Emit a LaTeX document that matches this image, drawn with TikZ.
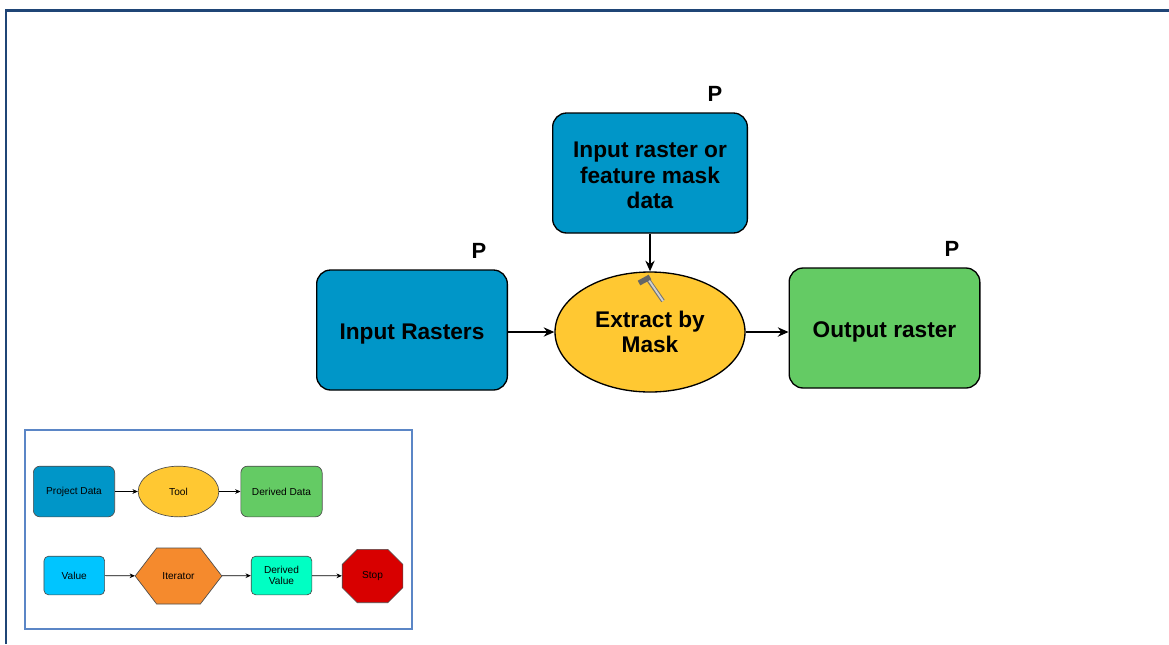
\documentclass[tikz,border=0pt]{standalone}
\usepackage{fontspec}
\setmainfont{Liberation Sans}
\usetikzlibrary{shapes.geometric,shapes.misc,shapes.symbols,arrows.meta}
\definecolor{projblue}{HTML}{0096C8}
\definecolor{toolyel}{HTML}{FFC832}
\definecolor{dergreen}{HTML}{64CB64}
\definecolor{valblue}{HTML}{00C5FF}
\definecolor{iterorg}{HTML}{F58A2D}
\definecolor{dervalgr}{HTML}{00FFC3}
\definecolor{stopred}{HTML}{D80000}
\definecolor{framenavy}{HTML}{1F4576}
\definecolor{legendblue}{HTML}{5B86C6}
\tikzset{
  big/.style={draw=black,line width=1pt,align=center,inner sep=0pt,
    font=\fontsize{17pt}{19pt}\selectfont\bfseries,text=black},
  bigbox/.style={big,rounded corners=10.5pt,minimum width=143pt,minimum height=90pt},
  bigell/.style={big,ellipse,minimum width=142.5pt,minimum height=90pt,fill=toolyel},
  small/.style={draw=black!70!white,line width=0.5pt,align=center,inner sep=0pt,
    font=\fontsize{7.6pt}{8pt}\selectfont,text=black},
  smallbox/.style={small,rounded corners=5pt,minimum width=61pt,minimum height=38pt},
  smallval/.style={small,rounded corners=3.5pt,minimum width=45.5pt,minimum height=29pt},
  bigarrow/.style={draw=black,line width=1pt,-{Stealth[length=8pt,width=7pt]}},
  smallarrow/.style={draw=black,line width=0.5pt,-{Stealth[length=4pt,width=3.5pt]}},
  plabel/.style={font=\fontsize{16.5pt}{19pt}\selectfont\bfseries,inner sep=0pt,text=black},
}
\begin{document}
\begin{tikzpicture}[x=0.75pt,y=-0.75pt]
\useasboundingbox (0,0) rectangle (1169,644);
\fill[white] (0,0) rectangle (1169,644);
\draw[framenavy,line width=1.6pt] (6,644) -- (6,10.5) -- (1169,10.5);
% main diagram
\node[bigbox,fill=projblue,minimum width=146pt] (mask) at (650,173) {\rule{0pt}{15.5pt}Input raster or\\feature mask\\data};
\node[bigbox,fill=projblue,text height=18pt] (rasters) at (412,330) {Input Rasters};
\node[bigell] (tool) at (650,332) {Extract by\\Mask};
\node[bigbox,fill=dergreen,text height=18pt] (output) at (884.5,328) {Output raster};
\node[plabel] (p1) at (715,94) {P};
\node[plabel] (p2) at (479,251) {P};
\node[plabel] (p3) at (952,249) {P};
\draw[bigarrow] (mask) -- (tool);
\draw[bigarrow] (rasters.east |- tool.west) -- (tool.west);
\draw[bigarrow] (tool.east) -- (output.west |- tool.east);
% hammer icon
\draw[black!55,line width=3pt] (647,278) -- (663,301);
\draw[black!18,line width=1.4pt] (648,279) -- (663,301);
\draw[black!60,line width=4pt] (639,283) -- (650,277);
% legend
\draw[legendblue,line width=1pt] (25,430) rectangle (412,629);
\node[smallbox,fill=projblue] (lproj) at (74,491.5) {Project Data};
\node[small,ellipse,minimum width=60.5pt,minimum height=38pt,fill=toolyel] (ltool) at (178.5,491.5) {Tool};
\node[smallbox,fill=dergreen] (lder) at (281.5,491.5) {Derived Data};
\node[smallval,fill=valblue] (lval) at (74.3,575.5) {Value};
\node[small,signal,signal to=west and east,signal pointer angle=105,minimum width=65pt,minimum height=42pt,fill=iterorg] (liter) at (178.5,576) {Iterator};
\node[smallval,fill=dervalgr] (ldv) at (281.5,575.5) {Derived\\Value};
\node[small,chamfered rectangle,chamfered rectangle xsep=12pt,chamfered rectangle ysep=12pt,minimum width=45.5pt,minimum height=40pt,fill=stopred] (lstop) at (372.5,576) {Stop};
\draw[smallarrow] (lproj) -- (ltool);
\draw[smallarrow] (ltool) -- (lder);
\draw[smallarrow] (lval) -- (liter);
\draw[smallarrow] (liter) -- (ldv);
\draw[smallarrow] (ldv) -- (lstop);
\end{tikzpicture}
\end{document}
